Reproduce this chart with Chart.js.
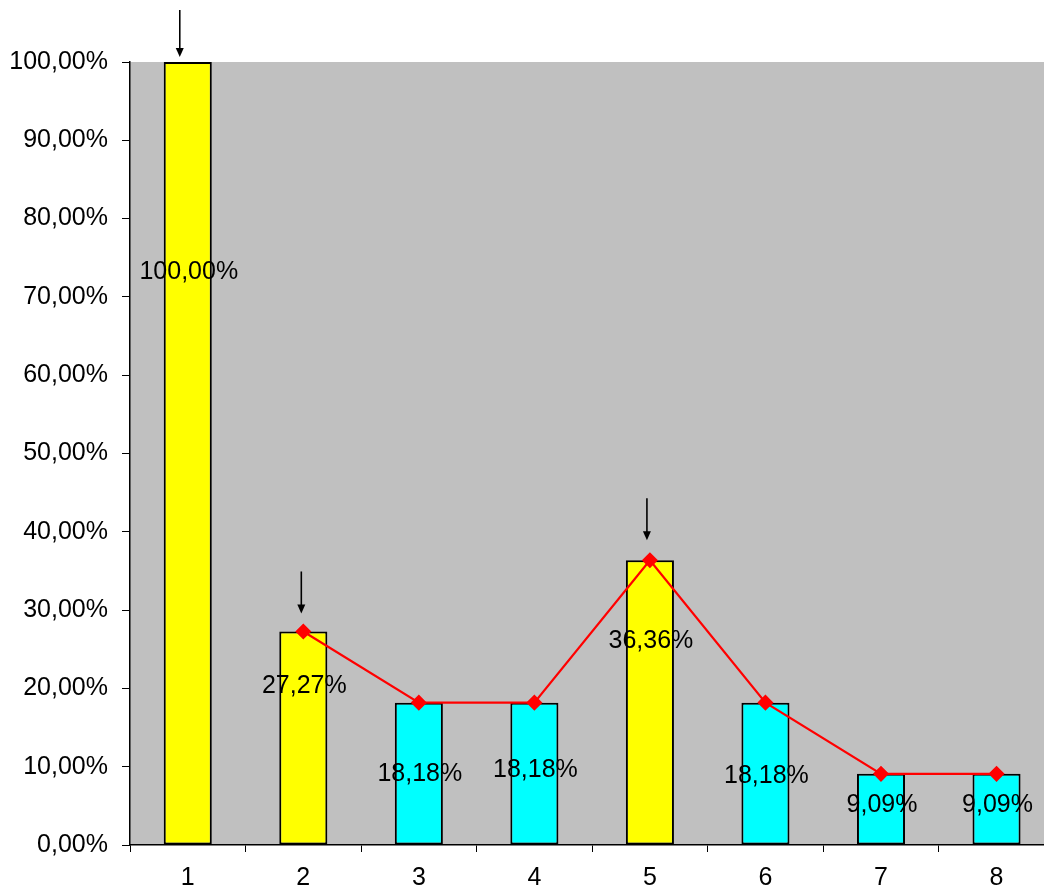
<!DOCTYPE html>
<html>
<head>
<meta charset="utf-8">
<script src="https://cdn.jsdelivr.net/npm/chart.js@4/dist/chart.umd.min.js"></script>
<style>
  html, body { margin:0; padding:0; background:#fff; overflow:hidden; }
  #wrap { width:1044px; height:893px; overflow:hidden; }
</style>
</head>
<body>
<div id="wrap"><canvas id="chart" width="1063" height="893"></canvas></div>
<script>
// data
const categories = ["1","2","3","4","5","6","7","8"];
const barValues = [100, 27.27, 18.18, 18.18, 36.36, 18.18, 9.09, 9.09];
const lineValues = [null, 27.27, 18.18, 18.18, 36.36, 18.18, 9.09, 9.09];
const barColors = ["#FFFF00","#FFFF00","#00FFFF","#00FFFF","#FFFF00","#00FFFF","#00FFFF","#00FFFF"];
const arrowBars = [0, 1, 4];
const yTicks = [0,10,20,30,40,50,60,70,80,90,100];

// label placement below bar top (px), and arrow styling
const labelDy = [210, 55, 71, 67, 81, 73, 31, 31];
const arrowStyle = { 0:{dx:-8, gap:5, len:47}, 1:{dx:-2, gap:18, len:42}, 4:{dx:-3, gap:20, len:42} };

const fmt = v => v.toFixed(2).replace(".", ",") + "%";
const FONT = "'Liberation Sans', Arial, sans-serif";

const plotBg = {
  id:"plotBg",
  beforeDraw(c){
    const a = c.chartArea, g = c.ctx;
    g.save();
    g.fillStyle = "#C0C0C0";
    g.fillRect(a.left, a.top, a.right - a.left, a.bottom - a.top);
    g.restore();
  }
};

const extras = {
  id:"extras",
  afterDatasetsDraw(c){
    const g = c.ctx;
    const bars = c.getDatasetMeta(1).data;
    g.save();
    // value labels
    g.font = "25px " + FONT;
    g.fillStyle = "#000";
    g.textAlign = "center";
    g.textBaseline = "middle";
    bars.forEach((b, i) => {
      g.fillText(fmt(barValues[i]), b.x + 1, b.y + labelDy[i]);
    });
    // arrows
    g.strokeStyle = "#000";
    g.fillStyle = "#000";
    g.lineWidth = 1.6;
    arrowBars.forEach(i => {
      const s = arrowStyle[i], b = bars[i];
      const x = b.x + s.dx, tip = b.y - s.gap, tail = tip - s.len;
      g.beginPath();
      g.moveTo(x, tail);
      g.lineTo(x, tip - 7);
      g.stroke();
      g.beginPath();
      g.moveTo(x - 4, tip - 9);
      g.lineTo(x + 4, tip - 9);
      g.lineTo(x, tip);
      g.closePath();
      g.fill();
    });
    g.restore();
  }
};

new Chart(document.getElementById("chart").getContext("2d"), {
  data:{
    labels:categories,
    datasets:[
      {
        type:"line", data:lineValues, order:0,
        borderColor:"#FF0000", borderWidth:2.2,
        pointStyle:"rectRot", pointRadius:6.5,
        pointBackgroundColor:"#FF0000", pointBorderColor:"#FF0000",
        tension:0, spanGaps:false
      },
      {
        type:"bar", data:barValues, order:1,
        backgroundColor:barColors, borderColor:"#000", borderWidth:2,
        borderSkipped:false,
        categoryPercentage:1, barPercentage:0.416
      }
    ]
  },
  plugins:[plotBg, extras],
  options:{
    responsive:false,
    animation:false,
    layout:{ padding:{ top:62, right:0, left:0, bottom:0 } },
    plugins:{ legend:{display:false}, tooltip:{enabled:false} },
    scales:{
      x:{
        offset:true,
        grid:{ offset:true, drawOnChartArea:false, color:"#000", tickLength:7, lineWidth:1 },
        border:{ color:"#000", width:1.5 },
        ticks:{ color:"#000", font:{ family:FONT, size:25 }, padding:11 },
        afterFit(s){ s.height = 48; }
      },
      y:{
        min:0, max:100,
        afterBuildTicks(s){ s.ticks = yTicks.map(v => ({value:v})); },
        grid:{ drawOnChartArea:false, color:"#000", tickLength:8, lineWidth:1 },
        border:{ color:"#000", width:1.5 },
        ticks:{ color:"#000", font:{ family:FONT, size:25 }, padding:14, callback:v => fmt(v) },
        afterFit(s){ s.width = 130; }
      }
    }
  }
});
</script>
</body>
</html>
